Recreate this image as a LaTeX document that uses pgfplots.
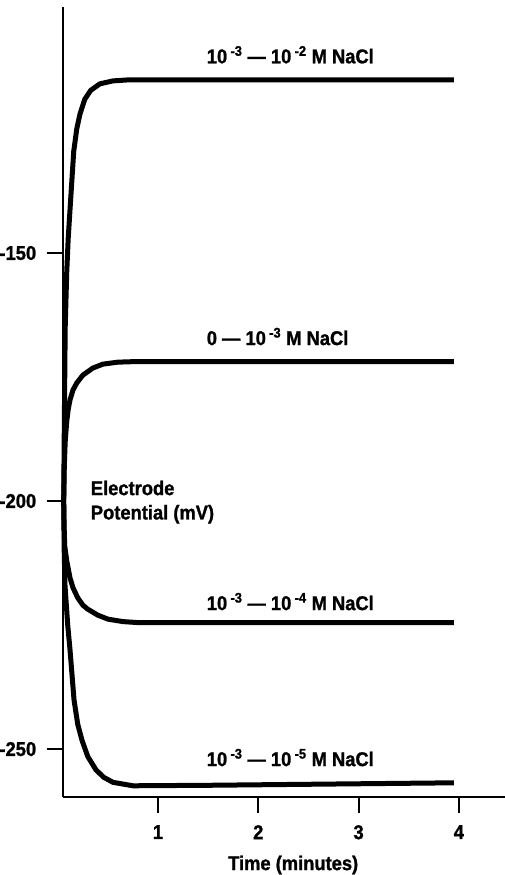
\documentclass[border=0pt]{standalone}
\usepackage{fontspec}
\setmainfont{Liberation Sans}
\newfontfamily\lfam{Liberation Sans}[UprightFont=* Bold, FakeStretch=0.92, FakeBold=1.2]
\usepackage{pgfplots}
\pgfplotsset{compat=1.18}
\newcommand\lf{\lfam\fontsize{20}{24}\selectfont}
\newcommand\sups[1]{\,\textsuperscript{#1}}
\begin{document}
\begin{tikzpicture}
\useasboundingbox (-62.7bp,-78.3bp) rectangle (442.3bp,796.7bp);
\begin{axis}[
  at={(0,0)}, anchor=south west, scale only axis,
  width=442.3bp, height=789.7bp,
  xmin=0.05, xmax=4.46, ymin=-259.6, ymax=-100.4,
  axis x line=bottom, axis y line=left,
  axis line style={-, line width=2.2bp, black},
  tick align=outside, major tick length=16bp,
  tick style={line width=2bp, black},
  xtick={1,2,3,4}, xticklabels={1,2,3,4},
  ytick={-250,-200,-150}, yticklabels={-250,-200,-150},
  ticklabel style={font=\lf},
  xticklabel style={yshift=-9bp},
  yticklabel style={xshift=-7bp},
  /pgf/number format/assume math mode=true,
  clip=false,
  curve/.style={black, mark=none, line width=5bp, line join=round},
]
\addplot[curve] coordinates {
(0.060,-200) (0.066,-185) (0.075,-165) (0.090,-154) (0.105,-147) (0.130,-139)
(0.160,-129.5) (0.190,-125) (0.222,-122) (0.27,-119) (0.33,-117.2) (0.42,-115.9)
(0.55,-115.3) (0.70,-115.1) (3.95,-115.1)};
\addplot[curve] coordinates {
(0.060,-200) (0.066,-193) (0.075,-188) (0.090,-184) (0.105,-181.5) (0.123,-179.6)
(0.153,-177.6) (0.19,-176.2) (0.252,-174.6) (0.35,-173.2) (0.45,-172.4) (0.60,-172.0)
(0.75,-171.9) (3.95,-171.9)};
\addplot[curve] coordinates {
(0.060,-200) (0.064,-205) (0.070,-209) (0.090,-212) (0.123,-215.5) (0.153,-217.5)
(0.20,-219.5) (0.252,-221) (0.30,-221.8) (0.40,-223) (0.50,-223.8) (0.65,-224.3)
(0.80,-224.5) (3.95,-224.5)};
\addplot[curve] coordinates {
(0.060,-200) (0.065,-210) (0.073,-217) (0.083,-220) (0.100,-225) (0.123,-230)
(0.163,-240.1) (0.20,-245) (0.242,-248.2) (0.30,-251.5) (0.382,-254.2) (0.46,-255.7)
(0.551,-256.7) (0.751,-257.4) (1.5,-257.3) (3.95,-256.8)};
\node[anchor=base west, inner sep=0, font=\lf] at (axis cs:1.485,-111.75) {10\sups{-3} — 10\sups{-2} M NaCl};
\node[anchor=base west, inner sep=0, font=\lf] at (axis cs:1.485,-168.55) {0 — 10\sups{-3} M NaCl};
\node[anchor=base west, inner sep=0, font=\lf] at (axis cs:1.485,-221.98) {10\sups{-3} — 10\sups{-4} M NaCl};
\node[anchor=base west, inner sep=0, font=\lf] at (axis cs:1.485,-253.43) {10\sups{-3} — 10\sups{-5} M NaCl};
\node[anchor=base west, inner sep=0, font=\lf] at (axis cs:0.329,-198.8) {Electrode};
\node[anchor=base west, inner sep=0, font=\lf] at (axis cs:0.329,-203.7) {Potential (mV)};
\node[anchor=base west, inner sep=0, font=\lf] at (axis cs:1.698,-274.4) {Time (minutes)};
\end{axis}
\end{tikzpicture}
\end{document}
